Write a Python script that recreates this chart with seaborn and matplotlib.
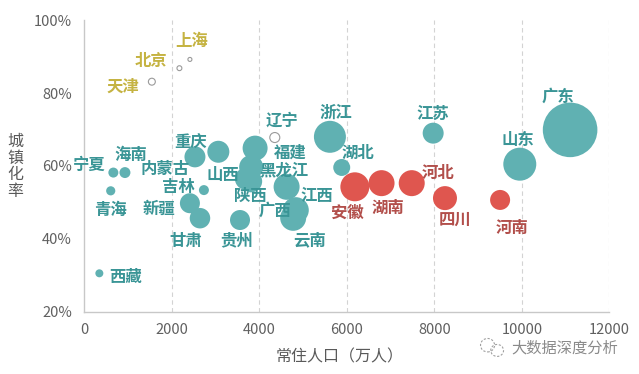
import matplotlib
matplotlib.use("Agg")
import matplotlib.pyplot as plt
from matplotlib.patches import Ellipse
import numpy as np
import pandas as pd
import seaborn as sns

# ---------------- data ----------------
provinces = ["北京", "上海", "天津", "辽宁", "广东", "山东", "江苏", "浙江", "湖北",
             "安徽", "湖南", "河北", "四川", "河南", "福建", "黑龙江", "山西", "陕西",
             "江西", "广西", "云南", "贵州", "甘肃", "新疆", "吉林", "内蒙古", "重庆",
             "宁夏", "海南", "青海", "西藏"]
population = [2170, 2410, 1540, 4350, 11100, 9950, 7970, 5610, 5880,
              6180, 6790, 7480, 8240, 9500, 3900, 3810, 3690, 3810,
              4620, 4830, 4770, 3555, 2640, 2410, 2730, 2525, 3060,
              660, 925, 600, 340]
urbanization = [86.8, 89.2, 83.1, 67.8, 69.9, 60.5, 69.0, 68.0, 59.6,
                54.3, 55.3, 55.3, 51.2, 50.7, 64.9, 59.7, 56.5, 55.8,
                54.3, 47.9, 45.8, 45.2, 45.7, 49.8, 53.4, 62.5, 63.9,
                58.2, 58.2, 53.2, 30.6]
bubble = [6, 4, 12, 25, 745, 272, 110, 256, 72,
          210, 169, 169, 144, 100, 156, 144, 121, 121,
          169, 169, 169, 100, 105, 100, 25, 110, 121,
          25, 30, 21, 16]
group = ["gold", "gold", "gold", "hollow", "teal", "teal", "teal", "teal", "teal",
         "red", "red", "red", "red", "red", "teal", "teal", "teal", "teal",
         "teal", "teal", "teal", "teal", "teal", "teal", "teal", "teal", "teal",
         "teal", "teal", "teal", "teal"]
x_ticks = [0, 2000, 4000, 6000, 8000, 10000, 12000]
y_ticks = [20, 40, 60, 80, 100]
x_title = "常住人口（万人）"
y_title = "城镇化率"
watermark = "大数据深度分析"

# label offsets in pixels (dx right, dy down) from each bubble
label_offsets = {
    "北京": (-28, -7), "上海": (2, -18), "天津": (-29, 5), "辽宁": (7, -17),
    "广东": (-12, -33), "山东": (-2, -24), "江苏": (0, -19), "浙江": (6, -24),
    "湖北": (16, -15), "安徽": (-7, 26), "湖南": (6, 25), "河北": (26, -10),
    "四川": (10, 22), "河南": (12, 28), "福建": (35, 5), "黑龙江": (33, 3),
    "山西": (-23, -4), "陕西": (-1, 15), "江西": (30, 9), "广西": (-21, 1),
    "云南": (16, 22), "贵州": (-3, 20), "甘肃": (-14, 23), "新疆": (-31, 6),
    "吉林": (-26, -3), "内蒙古": (-30, 12), "重庆": (-28, -10), "宁夏": (-24, -8),
    "海南": (6, -18), "青海": (0, 19), "西藏": (26, 4),
}

df = pd.DataFrame({"province": provinces, "pop": population,
                   "urb": urbanization, "bubble": bubble, "group": group})

sns.set_theme(style="white")
plt.rcParams["font.family"] = ["Noto Sans CJK SC", "DejaVu Sans"]

fig = plt.figure(figsize=(6.39, 3.74), dpi=100)
ax = fig.add_axes([0.1322, 0.1658, 0.8216, 0.7807])

bubble_color = {"teal": "#60b1b2", "red": "#df564f"}
text_color = {"teal": "#3a9596", "hollow": "#3a9596", "red": "#b24f4b", "gold": "#c5b342"}

filled = df[df["group"].isin(["teal", "red"])]
hollow = df[df["group"].isin(["gold", "hollow"])]

sns.scatterplot(data=filled, x="pop", y="urb", hue="group", palette=bubble_color,
                size="bubble", sizes=(0, 2073), size_norm=(0, 1000),
                edgecolor="face", linewidth=0, alpha=1, legend=False, ax=ax, zorder=3)
sns.scatterplot(data=hollow, x="pop", y="urb", color="white",
                size="bubble", sizes=(0, 2073), size_norm=(0, 1000),
                edgecolor="#9a9a9a", linewidth=0.8, legend=False, ax=ax, zorder=3)

for _, r in df.iterrows():
    dx, dy = label_offsets[r["province"]]
    ax.annotate(r["province"], (r["pop"], r["urb"]), xytext=(dx, -dy),
                textcoords="offset pixels", ha="center", va="center",
                fontsize=11.8, fontweight="bold", color=text_color[r["group"]],
                zorder=5)

ax.set_xlim(0, 12000)
ax.set_ylim(20, 100)
ax.set_xticks(x_ticks)
ax.set_xticklabels([str(v) for v in x_ticks])
ax.set_yticks(y_ticks)
ax.set_yticklabels([f"{v}%" for v in y_ticks])
ax.tick_params(axis="both", length=0, labelsize=10.5, labelcolor="#606060")
for lbl in ax.get_xticklabels() + ax.get_yticklabels():
    lbl.set_fontweight("light")
ax.tick_params(axis="y", pad=9)
ax.tick_params(axis="x", pad=8)

for v in x_ticks[1:]:
    ax.axvline(v, color="#d3d3d3", linewidth=0.8, linestyle=(0, (4, 3)), zorder=1)

for side in ["top", "right"]:
    ax.spines[side].set_visible(False)
for side in ["left", "bottom"]:
    ax.spines[side].set_color("#c8c8c8")
    ax.spines[side].set_linewidth(1.0)

ax.set_xlabel("")
ax.set_ylabel("")
fig.text(0.532, 0.045, x_title, ha="center", va="center", fontsize=11.5,
         color="#5a5a5a", fontweight="light")
fig.text(0.024, 0.555, "\n".join(y_title), ha="center", va="center",
         fontsize=11.5, color="#5a5a5a", linespacing=1.0, fontweight="light")
fig.text(0.884, 0.070, watermark, ha="center", va="center", fontsize=11,
         color="#8a8a8a")
# small chat-bubble icon next to the watermark
fig.patches.append(Ellipse((0.763, 0.077), 0.022, 0.036, transform=fig.transFigure,
                           fill=False, edgecolor="#a0a0a0", linewidth=0.8,
                           linestyle=(0, (2, 1.5))))
fig.patches.append(Ellipse((0.778, 0.063), 0.020, 0.032, transform=fig.transFigure,
                           fill=False, edgecolor="#a0a0a0", linewidth=0.8,
                           linestyle=(0, (2, 1.5))))

fig.savefig("out.png", dpi=100)
